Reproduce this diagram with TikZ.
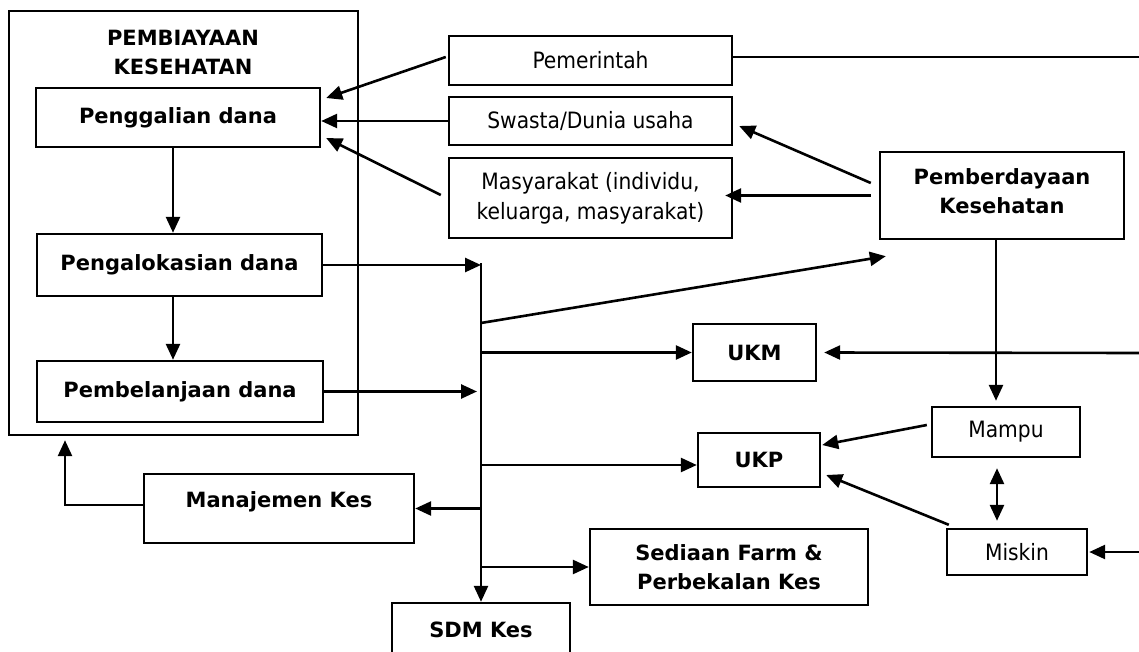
\documentclass[tikz,border=0pt]{standalone}
\usepackage{fontspec}
\setmainfont{DejaVu Sans}
\newfontfamily\condfont{DejaVu Sans Condensed}
\usetikzlibrary{arrows.meta}
\tikzset{
  box/.style={draw, line width=2.4pt, inner sep=0pt, align=center},
  tebal/.style={font=\fontsize{21}{29}\selectfont\bfseries},
  biasa/.style={font=\condfont\fontsize{22.5}{30}\selectfont},
  arr/.style={line width=2.6pt, -{Triangle[length=16pt,width=14pt]}},
  garis/.style={line width=2.6pt},
}
\begin{document}
\begin{tikzpicture}[x=1pt,y=-1pt]
\useasboundingbox (0,0) rectangle (1139,652);
% kotak pembiayaan
\node[box, minimum width=349pt, minimum height=424pt] (biaya) at (183.5,223) {};
\node[tebal, align=center] (judul) at (183,52) {PEMBIAYAAN\\KESEHATAN};
\node[box, tebal, minimum width=284pt, minimum height=59pt] (gali) at (178,117.5) {Penggalian dana};
\node[box, tebal, minimum width=285pt, minimum height=62pt] (alok) at (179.5,265) {Pengalokasian dana};
\node[box, tebal, minimum width=286pt, minimum height=61pt] (belanja) at (180,391.5) {Pembelanjaan dana};
% sumber dana
\node[box, biasa, minimum width=283pt, minimum height=49pt] (pemerintah) at (590.5,60.5) {Pemerintah};
\node[box, biasa, minimum width=283pt, minimum height=48pt] (swasta) at (590.5,121) {Swasta/Dunia usaha};
\node[box, biasa, minimum width=283pt, minimum height=80pt] (masy) at (590.5,198) {Masyarakat (individu,\\keluarga, masyarakat)};
\node[box, tebal, minimum width=244pt, minimum height=87pt, text depth=9pt] (pember) at (1002,195.5) {Pemberdayaan\\Kesehatan};
% subsistem lain
\node[box, tebal, minimum width=123pt, minimum height=57pt] (ukm) at (754.5,352.5) {UKM};
\node[box, tebal, minimum width=122pt, minimum height=54pt] (ukp) at (759,460) {UKP};
\node[box, biasa, minimum width=148pt, minimum height=50pt] (mampu) at (1006,432) {Mampu};
\node[box, biasa, minimum width=140pt, minimum height=46pt] (miskin) at (1017,552) {Miskin};
\node[box, tebal, minimum width=270pt, minimum height=69pt, text depth=17pt] (manaj) at (279,508.5) {Manajemen Kes};
\node[box, tebal, minimum width=278pt, minimum height=76pt] (sediaan) at (729,567) {Sediaan Farm \&\\Perbekalan Kes};
\node[box, tebal, minimum width=178pt, minimum height=54pt] (sdm) at (481,630) {SDM Kes};
\coordinate (atas) at (481,263);
\coordinate (kanan1) at (1139,57);
\coordinate (kanan2) at (1139,353);
\coordinate (kanan3) at (1139,552);
% aliran dana
\draw[arr] ([xshift=-2pt,yshift=3.5pt]pemerintah.west) -- ([xshift=5pt,yshift=19.5pt]gali.east);
\draw[arr] (swasta.west) -- (swasta.west -| gali.east);
\draw[arr] ([xshift=-7pt,yshift=3pt]masy.west) -- ([xshift=5pt,yshift=-20.5pt]gali.east);
\draw[garis] ([yshift=3.5pt]pemerintah.east) -- (kanan1);
\draw[arr] ([xshift=-8pt,yshift=12.5pt]pember.west) -- ([xshift=6pt,yshift=-5pt]swasta.east);
\draw[arr] ([xshift=-8pt]pember.west) -- ([xshift=-8pt]pember.west -| masy.east);
\draw[arr] ([xshift=-5pt]gali.south) -- ([xshift=-5pt]gali.south |- alok.north);
\draw[arr] ([xshift=-6.5pt]alok.south) -- ([xshift=-6.5pt]alok.south |- belanja.north);
\draw[arr] (alok.east) -- (alok.east -| atas);
\draw[arr] (belanja.east) -- ([xshift=-4pt]belanja.east -| atas);
\draw[arr] (atas) -- (sdm.north);
% cabang
\draw[arr] ([yshift=-60pt]atas) -- ([xshift=7pt,yshift=-16pt]pember.south west);
\draw[arr] (ukm.west -| atas) -- (ukm.west);
\draw[arr] ([yshift=-5pt]ukp.west -| atas) -- ([yshift=-5pt]ukp.west);
\draw[arr] (manaj.east -| atas) -- (manaj.east);
\draw[arr] (sediaan.west -| atas) -- (sediaan.west);
\draw[arr] ([yshift=3.5pt]manaj.west) -| ([xshift=-118.5pt,yshift=-4pt]biaya.south);
% sisi kanan
\draw[arr] (kanan2) -- ([xshift=7pt]ukm.east);
\draw[arr] ([xshift=-6pt]pember.south) -- ([xshift=-10pt,yshift=5pt]mampu.north);
\draw[arr] ([xshift=-4pt,yshift=7pt]mampu.west) -- ([xshift=1pt,yshift=15pt]ukp.east);
\draw[arr] ([xshift=3pt,yshift=3pt]miskin.north west) -- ([xshift=5pt,yshift=-15pt]ukp.east);
\draw[arr, {Triangle[length=16pt,width=14pt]}-{Triangle[length=16pt,width=14pt]}] ([xshift=-9pt,yshift=-10pt]mampu.south) -- ([xshift=-20pt,yshift=7pt]miskin.north);
\draw[arr] (kanan3) -- ([xshift=1pt]miskin.east);
\end{tikzpicture}
\end{document}
